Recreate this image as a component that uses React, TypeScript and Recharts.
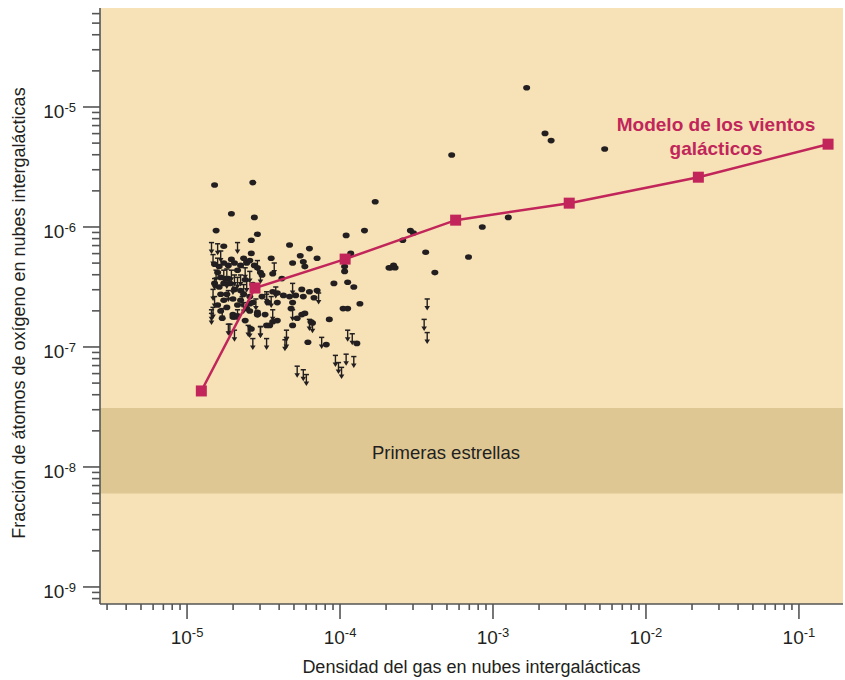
import React from 'react';
import {
  CartesianGrid,
  ReferenceArea,
  ReferenceDot,
  Scatter,
  ScatterChart,
  XAxis,
  YAxis,
} from 'recharts';

// galactic-wind model curve
const modelDensity = [1.24e-5, 2.78e-5, 1.08e-4, 5.7e-4, 3.15e-3, 2.2e-2, 0.155];
const modelOxygen = [4.3e-8, 3.1e-7, 5.4e-7, 1.14e-6, 1.58e-6, 2.6e-6, 4.9e-6];

const detectionsLog = [
  [-4.82, -5.65], [-4.57, -5.63], [-4.71, -5.89], [-4.56, -5.92], [-4.81, -6.03],
  [-4.54, -6.06], [-4.58, -6.11], [-4.76, -6.16], [-4.58, -6.22], [-4.45, -6.26],
  [-4.33, -6.15], [-4.2, -6.18], [-4.26, -6.24], [-4.15, -6.26], [-4.31, -6.3],
  [-4.24, -6.29], [-4.23, -6.33], [-3.96, -6.07], [-3.84, -6.03], [-3.77, -5.79],
  [-3.93, -6.22], [-3.97, -6.33], [-3.97, -6.37], [-3.68, -6.34], [-4.04, -6.47],
  [-3.95, -6.46], [-3.91, -6.5], [-3.87, -6.64], [-3.95, -6.68], [-3.98, -6.68],
  [-4.07, -6.77], [-4.21, -6.96], [-4.09, -6.98], [-3.89, -6.97], [-4.25, -6.52],
  [-4.2, -6.54], [-4.15, -6.53], [-4.24, -6.58], [-4.17, -6.59], [-4.29, -6.57],
  [-4.33, -6.58], [-4.37, -6.57], [-4.41, -6.55], [-4.44, -6.54], [-4.32, -6.68],
  [-4.31, -6.63], [-4.25, -6.73], [-4.23, -6.72], [-4.28, -6.76], [-4.31, -6.82],
  [-4.18, -6.8], [-4.19, -6.79], [-4.38, -6.43], [-4.52, -6.38], [-4.44, -6.39],
  [-4.41, -6.63], [-4.41, -6.78], [-4.48, -6.82], [-4.46, -6.82], [-4.58, -6.85],
  [-4.54, -6.73], [-4.57, -6.63], [-4.59, -6.7], [-4.7, -6.75], [-4.69, -6.75],
  [-4.78, -6.7], [-4.76, -6.61], [-4.76, -6.47], [-4.75, -6.43], [-4.8, -6.38],
  [-4.61, -6.29], [-4.59, -6.28], [-3.54, -6.03], [-3.52, -6.05], [-3.59, -6.11],
  [-3.44, -6.21], [-3.65, -6.32], [-3.67, -6.34], [-3.64, -6.34], [-3.38, -6.38],
  [-3.16, -6.25], [-3.07, -6.0], [-2.9, -5.92], [-3.27, -5.4], [-2.78, -4.84],
  [-2.66, -5.22], [-2.62, -5.28], [-2.27, -5.35],
  [-4.82, -6.31], [-4.79, -6.33], [-4.76, -6.3], [-4.73, -6.32], [-4.69, -6.3],
  [-4.65, -6.32], [-4.61, -6.3], [-4.56, -6.32], [-4.54, -6.34], [-4.78, -6.42],
  [-4.73, -6.43], [-4.62, -6.44], [-4.51, -6.4], [-4.67, -6.36], [-4.72, -6.47],
  [-4.82, -6.47], [-4.65, -6.53], [-4.78, -6.56], [-4.74, -6.56], [-4.69, -6.52],
  [-4.63, -6.56], [-4.59, -6.58], [-4.8, -6.65], [-4.74, -6.67], [-4.67, -6.65],
  [-4.59, -6.64], [-4.54, -6.71], [-4.7, -6.73], [-4.67, -6.74], [-4.54, -6.73],
  [-4.49, -6.73], [-4.44, -6.79], [-4.77, -6.76], [-4.62, -6.78], [-4.51, -6.58],
  [-4.47, -6.63], [-4.65, -6.61], [-4.71, -6.27], [-4.63, -6.26], [-4.79, -6.5],
  [-4.57, -6.48], [-4.7, -6.6], [-4.61, -6.68],
];

// upper limits (arrows), same units
const upperLimitsLog = [
  [-4.84, -6.13], [-4.8, -6.14], [-4.67, -6.13], [-4.54, -6.28], [-4.43, -6.3],
  [-4.52, -6.38], [-4.31, -6.47], [-4.42, -6.5], [-4.83, -6.52], [-4.82, -6.58],
  [-4.83, -6.67], [-4.84, -6.72], [-4.72, -6.81], [-4.69, -6.86], [-4.59, -6.83],
  [-4.52, -6.83], [-4.57, -6.93], [-4.48, -6.93], [-4.35, -6.86], [-4.35, -6.92],
  [-4.36, -6.94], [-4.28, -7.16], [-4.24, -7.19], [-4.22, -7.23], [-4.12, -6.92],
  [-4.03, -7.07], [-4.01, -7.13], [-3.99, -7.17], [-3.96, -7.06], [-3.91, -7.08],
  [-3.95, -6.86], [-3.92, -6.89], [-4.31, -6.69], [-4.2, -6.77], [-4.18, -6.79],
  [-4.14, -6.55], [-4.44, -6.69], [-4.48, -6.56], [-4.45, -6.58], [-4.63, -6.48],
  [-4.67, -6.42], [-4.71, -6.36], [-4.59, -6.37], [-4.76, -6.36], [-4.74, -6.42],
  [-4.73, -6.53], [-4.7, -6.47], [-4.64, -6.58], [-4.63, -6.63], [-4.67, -6.69],
  [-3.43, -6.6], [-3.45, -6.77], [-3.43, -6.88], [-4.81, -6.36], [-4.74, -6.35],
  [-4.69, -6.4], [-4.65, -6.4], [-4.84, -6.69], [-4.77, -6.68], [-4.73, -6.81],
  [-4.6, -6.82], [-4.52, -6.83], [-4.83, -6.23], [-4.8, -6.26], [-4.82, -6.43],
  [-4.48, -6.54], [-4.62, -6.34], [-4.78, -6.2], [-4.61, -6.45], [-4.55, -6.6],
];

const firstStarsBand = [6e-9, 3.1e-8];

const xDecades = [-6, -5, -4, -3, -2, -1];
const yDecades = [-10, -9, -8, -7, -6, -5];
const mantissas = [1, 2, 3, 4, 5, 6, 7, 8, 9];

const X_DOMAIN = [10 ** -5.569, 10 ** -0.712];
const Y_DOMAIN = [10 ** -9.142, 10 ** -4.175];

const CRIMSON = '#c1255a';
const INK = '#231f20';
const AXIS = '#555';

const logTicks = (decades: number[], domain: number[]) =>
  decades
    .flatMap((d) => mantissas.map((m) => m * 10 ** d))
    .filter((v) => v >= domain[0] && v <= domain[1]);

const xTicks = logTicks(xDecades, X_DOMAIN);
const yTicks = logTicks(yDecades, Y_DOMAIN);

const toPoints = (rows: number[][]) => rows.map(([lx, ly]) => ({ x: 10 ** lx, y: 10 ** ly }));
const detections = toPoints(detectionsLog);
const upperLimits = toPoints(upperLimitsLog);
const model = modelDensity.map((x, i) => ({ x, y: modelOxygen[i] }));

const decadeOf = (v: number) => {
  const e = Math.log10(v);
  return Math.abs(e - Math.round(e)) < 1e-6 ? Math.round(e) : null;
};

const YTick = ({ x, y, payload }: any) => {
  const exp = decadeOf(payload.value);
  const major = exp !== null;
  return (
    <g>
      <line x1={x - (major ? 17 : 8)} x2={x} y1={y} y2={y} stroke={AXIS} strokeWidth={1.6} />
      {major && (
        <text x={x - 24} y={y + 11} textAnchor='end' fontSize={19} fill={INK}>
          10
          <tspan dy={-6} fontSize={13}>
            {exp}
          </tspan>
        </text>
      )}
    </g>
  );
};

const XTick = ({ x, y, payload }: any) => {
  const exp = decadeOf(payload.value);
  const major = exp !== null;
  return (
    <g>
      <line x1={x} x2={x} y1={y} y2={y + (major ? 15 : 6)} stroke={AXIS} strokeWidth={1.6} />
      {major && (
        <text x={x} y={y + 40} textAnchor='middle' fontSize={19} fill={INK}>
          10
          <tspan dy={-7} fontSize={13}>
            {exp}
          </tspan>
        </text>
      )}
    </g>
  );
};

const Dot = ({ cx, cy }: any) => <ellipse cx={cx} cy={cy} rx={3.5} ry={2.8} fill={INK} />;

const Limit = ({ cx, cy }: any) => (
  <g>
    <line x1={cx - 2.6} x2={cx + 2.6} y1={cy} y2={cy} stroke={INK} strokeWidth={1.5} />
    <line x1={cx} x2={cx} y1={cy} y2={cy + 8} stroke={INK} strokeWidth={1.4} />
    <path d={`M${cx - 2.8},${cy + 7} L${cx + 2.8},${cy + 7} L${cx},${cy + 11.5} Z`} fill={INK} />
  </g>
);

const ModelSquare = ({ cx, cy }: any) => (
  <rect x={cx - 5.5} y={cy - 5.5} width={11} height={11} fill={CRIMSON} />
);

const XTitle = ({ viewBox }: any) => (
  <text x={viewBox.x + viewBox.width / 2} y={viewBox.y + 69} textAnchor='middle' fontSize={18} fill={INK}>
    Densidad del gas en nubes intergalácticas
  </text>
);

const YTitle = ({ viewBox }: any) => {
  const cx = viewBox.x + 25;
  const cy = viewBox.y + viewBox.height / 2 + 7;
  return (
    <text x={cx} y={cy} transform={`rotate(-90 ${cx} ${cy})`} textAnchor='middle' fontSize={18} fill={INK}>
      Fracción de átomos de oxígeno en nubes intergalácticas
    </text>
  );
};

const BandText = ({ cx, cy }: any) => (
  <text x={cx} y={cy + 6} textAnchor='middle' fontSize={18.5} fill={INK}>
    Primeras estrellas
  </text>
);

const ModelText = ({ cx, cy }: any) => (
  <text x={cx} y={cy + 6} textAnchor='middle' fontSize={19} fontWeight='bold' fill={CRIMSON}>
    <tspan x={cx}>Modelo de los vientos</tspan>
    <tspan x={cx} dy={24}>
      galácticos
    </tspan>
  </text>
);

const App: React.FC = () => {
  return (
    <div style={{ position: 'absolute', left: 0, top: 0, fontFamily: '"Liberation Sans", Arial, sans-serif' }}>
      <ScatterChart width={845} height={680} margin={{ top: 8, right: 2, bottom: 0, left: 0 }}>
        <CartesianGrid fill='#f6e2b6' fillOpacity={1} horizontal={false} vertical={false} />
        <ReferenceArea
          y1={firstStarsBand[0]}
          y2={firstStarsBand[1]}
          fill='#dfc794'
          fillOpacity={1}
          stroke='none'
        />
        <XAxis
          type='number'
          dataKey='x'
          scale='log'
          domain={X_DOMAIN}
          allowDataOverflow
          ticks={xTicks}
          interval={0}
          tick={XTick}
          tickLine={false}
          tickSize={0}
          tickMargin={0}
          height={76}
          axisLine={{ stroke: AXIS, strokeWidth: 1.6 }}
          label={{ content: XTitle }}
        />
        <YAxis
          type='number'
          dataKey='y'
          scale='log'
          domain={Y_DOMAIN}
          allowDataOverflow
          ticks={yTicks}
          interval={0}
          tick={YTick}
          tickLine={false}
          tickSize={0}
          tickMargin={0}
          width={100}
          axisLine={{ stroke: AXIS, strokeWidth: 1.6 }}
          label={{ content: YTitle }}
        />
        <Scatter data={detections} shape={Dot} isAnimationActive={false} />
        <Scatter data={upperLimits} shape={Limit} isAnimationActive={false} />
        <Scatter
          data={model}
          shape={ModelSquare}
          line={{ stroke: CRIMSON, strokeWidth: 2.5 }}
          lineType='joint'
          isAnimationActive={false}
        />
        <ReferenceDot x={4.93e-4} y={1.31e-8} r={0} shape={BandText} />
        <ReferenceDot x={2.87e-2} y={7.08e-6} r={0} shape={ModelText} />
      </ScatterChart>
    </div>
  );
};

export default App;
